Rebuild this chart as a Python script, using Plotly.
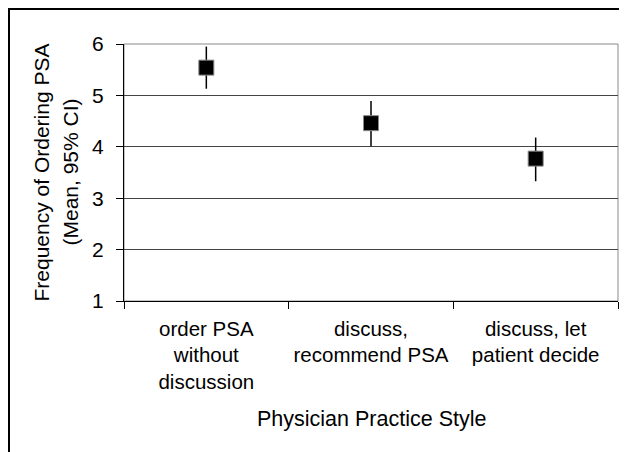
import plotly.graph_objects as go

categories = ["order PSA<br>without<br>discussion",
              "discuss,<br>recommend PSA",
              "discuss, let<br>patient decide"]
means = [5.54, 4.46, 3.77]
ci_low = [5.13, 4.01, 3.33]
ci_high = [5.95, 4.89, 4.18]
y_ticks = [1, 2, 3, 4, 5, 6]
y_title_1 = "Frequency of Ordering PSA"
y_title_2 = "(Mean, 95% CI)"
x_title = "Physician Practice Style"

FONT = "Liberation Sans, Arial, Helvetica, sans-serif"

# page has an 8px body margin; compensate so the plot lands where the reference has it
OFF = 8
W, H = 627 - OFF, 452 - OFF
ML, MR, MT, MB = 124 - OFF, 9, 44 - OFF, 151
PW, PH = W - ML - MR, H - MT - MB


def px_x(px):
    return (px - OFF - ML) / PW


def px_y(py):
    return (H + OFF - MB - py) / PH


fig = go.Figure()
fig.add_trace(go.Scatter(
    x=categories, y=means, mode="markers",
    marker=dict(symbol="square", size=15, color="black",
                line=dict(color="#888888", width=1)),
    error_y=dict(type="data", symmetric=False,
                 array=[h - m for h, m in zip(ci_high, means)],
                 arrayminus=[m - l for m, l in zip(means, ci_low)],
                 width=0, thickness=1.5, color="black"),
    showlegend=False, cliponaxis=False,
))

fig.update_layout(
    width=W, height=H,
    margin=dict(l=ML, r=MR, t=MT, b=MB, autoexpand=False),
    paper_bgcolor="white", plot_bgcolor="white",
    font=dict(family=FONT, color="black", size=20),
    xaxis=dict(type="category", tickson="boundaries", ticks="outside",
               ticklen=7, tickcolor="black", showline=True, linecolor="black",
               linewidth=1, showgrid=False, zeroline=False, automargin=False,
               tickfont=dict(size=20.5), ticklabelstandoff=9,
               range=[-0.5, 2.5]),
    yaxis=dict(range=[1, 6], tickvals=y_ticks, ticks="outside", ticklen=7,
               tickcolor="black", showline=True, linecolor="black", linewidth=1,
               showgrid=True, gridcolor="#444444", gridwidth=1, zeroline=False,
               automargin=False, tickfont=dict(size=21), ticklabelstandoff=8),
    shapes=[
        dict(type="rect", xref="paper", yref="paper", x0=0, x1=1, y0=0, y1=1,
             line=dict(color="#8a8a8a", width=1), layer="below"),
        dict(type="rect", xref="paper", yref="paper",
             x0=px_x(9), x1=px_x(640), y0=px_y(470), y1=px_y(9),
             line=dict(color="black", width=2), layer="above"),
    ],
    annotations=[
        dict(text=y_title_1, xref="paper", yref="paper", x=px_x(41), y=0.5,
             xanchor="center", yanchor="middle", textangle=-90, showarrow=False,
             font=dict(size=21)),
        dict(text=y_title_2, xref="paper", yref="paper", x=px_x(70), y=0.5,
             xanchor="center", yanchor="middle", textangle=-90, showarrow=False,
             font=dict(size=21)),
        dict(text=x_title, xref="paper", yref="paper", x=0.5, y=px_y(419),
             xanchor="center", yanchor="middle", showarrow=False,
             font=dict(size=21.5)),
    ],
)

fig.write_html("out.html")
